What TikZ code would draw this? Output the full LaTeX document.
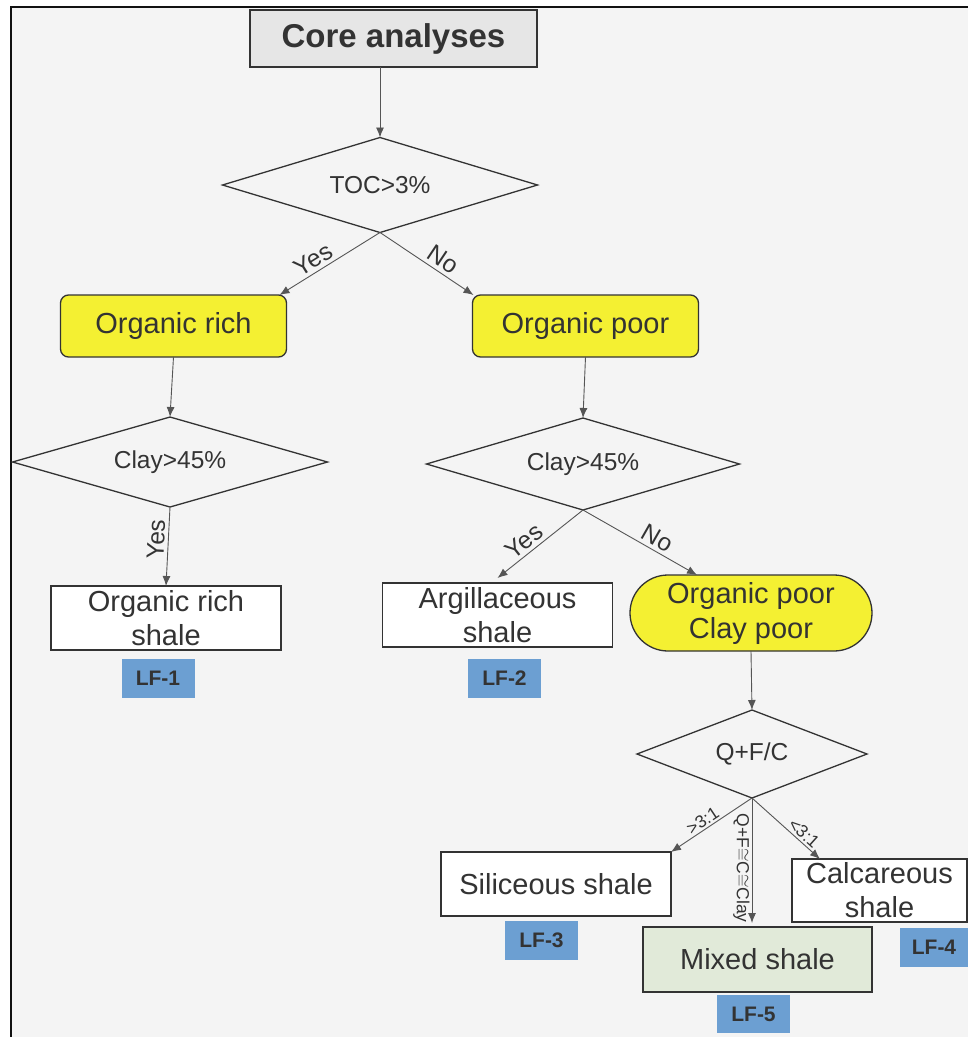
\documentclass[tikz,border=0pt]{standalone}
\usepackage{fontspec}
\setmainfont{Liberation Sans}
\usetikzlibrary{arrows.meta, positioning, shapes.geometric}
\definecolor{chartcanvas}{HTML}{F4F4F4}
\definecolor{chartframe}{HTML}{111111}
\definecolor{chartink}{HTML}{333333}
\definecolor{chartline}{HTML}{555555}
\definecolor{corefill}{HTML}{E6E6E6}
\definecolor{organicfill}{HTML}{F4F032}
\definecolor{mixedfill}{HTML}{E1EAD9}
\definecolor{faciesfill}{HTML}{6C9FD2}

\begin{document}
\begin{tikzpicture}[
        on grid,
        startbox/.style={
            draw=chartink,
            line width=1.3pt,
            fill=corefill,
            minimum width=287pt,
            minimum height=57pt,
            inner sep=0pt,
            outer sep=0pt,
            font=\fontsize{33}{38}\selectfont\bfseries,
            text=chartink
        },
        decision/.style={
            diamond,
            aspect=3.3,
            draw=chartink,
            line width=1.3pt,
            inner sep=0pt,
            outer sep=0pt,
            font=\fontsize{24.5}{28}\selectfont,
            text=chartink
        },
        choicebox/.style={
            draw=chartink,
            line width=1.3pt,
            fill=organicfill,
            rounded corners=8pt,
            minimum width=226pt,
            minimum height=62pt,
            inner sep=0pt,
            outer sep=0pt,
            font=\fontsize{29}{33}\selectfont,
            text=chartink
        },
        groupbox/.style={choicebox, rounded corners=38pt, minimum width=242pt,
            minimum height=76pt, align=center, font=\fontsize{29}{35}\selectfont},
        shalebox/.style={
            draw=chartink,
            line width=1.3pt,
            fill=white,
            minimum width=230pt,
            minimum height=64pt,
            inner sep=0pt,
            outer sep=0pt,
            align=center,
            font=\fontsize{29}{34}\selectfont,
            text=chartink
        },
        mixedbox/.style={shalebox, fill=mixedfill},
        faciestag/.style={fill=faciesfill, minimum width=73pt, minimum height=39pt,
            inner sep=0pt, font=\fontsize{21}{24}\selectfont\bfseries, text=chartink},
        flowarrow/.style={-{Latex[length=10pt, width=8pt]}, line width=0.9pt, chartline},
        answer/.style={sloped, above, font=\fontsize{24.5}{28}\selectfont, text=chartink},
        ratio/.style={sloped, above, inner sep=2pt, font=\fontsize{17.5}{20}\selectfont, text=chartink}
    ]
        \useasboundingbox (0pt,0pt) rectangle (968pt,-1037pt);
        \fill[white] (0pt,0pt) rectangle (968pt,-1037pt);
        \fill[chartcanvas] (11pt,-7pt) rectangle (968pt,-1037pt);
        \draw[chartframe, line width=2.5pt] (11pt,-1037pt) -- (11pt,-7pt) -- (968pt,-7pt);

        \node[startbox] (core) at (393.5pt,-38.5pt) {Core analyses};
        \node[decision, minimum width=315pt, minimum height=95pt,
            below left=146.5pt and 13.5pt of core] (toc) {TOC>3\%};
        \node[choicebox, below left=141pt and 206.5pt of toc] (orgrich) {Organic rich};
        \node[choicebox, below right=141pt and 205.5pt of toc] (orgpoor) {Organic poor};
        \node[decision, minimum width=315pt, minimum height=90pt,
            below left=136pt and 3.5pt of orgrich] (clayrich) {Clay>45\%};
        \node[decision, minimum width=313pt, minimum height=92pt,
            below left=138pt and 2.5pt of orgpoor] (claypoor) {Clay>45\%};
        \node[shalebox, below left=156pt and 4pt of clayrich] (richshale) {Organic rich\\shale};
        \node[shalebox, below left=151pt and 85.5pt of claypoor] (argil) {Argillaceous\\shale};
        \node[groupbox, below right=149pt and 168pt of claypoor] (poorpoor) {Organic poor\\Clay poor};
        \node[faciestag, below left=60.5pt and 8pt of richshale] (lfone) {LF-1};
        \node[faciestag, below right=63.5pt and 7pt of argil] (lftwo) {LF-2};
        \node[decision, minimum width=230pt, minimum height=88pt,
            below right=141pt and 1pt of poorpoor] (qfc) {Q+F/C};
        \node[shalebox, below left=130pt and 196pt of qfc] (silic) {Siliceous shale};
        \node[mixedbox, minimum width=229pt, minimum height=65pt,
            below right=205.5pt and 5.5pt of qfc] (mixed) {Mixed shale};
        \node[shalebox, minimum width=175pt, minimum height=63pt,
            below right=136.5pt and 127.5pt of qfc] (calc) {Calcareous\\shale};
        \node[faciestag, below left=56pt and 14.5pt of silic] (lfthree) {LF-3};
        \node[faciestag, minimum height=38pt, below left=54.5pt and 4pt of mixed] (lffive) {LF-5};
        \node[faciestag, minimum width=68pt, below right=57pt and 54.5pt of calc] (lffour) {LF-4};

        \draw[flowarrow] (toc.north |- core.south) -- (toc.north);
        \draw[flowarrow] (toc.south)
            -- node[answer, pos=0.6] {Yes}
            ([xshift=-7pt]orgrich.north east);
        \draw[flowarrow] (toc.south)
            -- node[answer, pos=0.6] {No}
            ([xshift=1pt]orgpoor.north west);
        \draw[flowarrow] (orgrich.south) -- (clayrich.north);
        \draw[flowarrow] (orgpoor.south) -- (claypoor.north);
        \draw[flowarrow] (clayrich.south)
            -- node[answer, pos=0.42] {Yes}
            (richshale.north);
        \draw[flowarrow] (claypoor.south)
            -- node[answer, pos=0.6] {Yes}
            ([yshift=5pt]argil.north);
        \draw[flowarrow] (claypoor.south)
            -- node[answer, pos=0.6] {No}
            ([xshift=-54pt]poorpoor.north);
        \draw[flowarrow] (poorpoor.south) -- (qfc.north);
        \draw[flowarrow] (qfc.south)
            -- node[ratio, pos=0.55] {>3:1}
            (silic.north east);
        \draw[flowarrow] (qfc.south)
            -- node[pos=0.56, rotate=-90, anchor=north, inner sep=2pt,
                font=\fontsize{17.5}{20}\selectfont, text=chartink] {Q+F$\cong$C$\cong$Clay}
            ([yshift=4pt]qfc.south |- mixed.north);
        \draw[flowarrow] (qfc.south)
            -- node[ratio, pos=0.68] {<3:1}
            ([xshift=28pt]calc.north west);
    \end{tikzpicture}
\end{document}
